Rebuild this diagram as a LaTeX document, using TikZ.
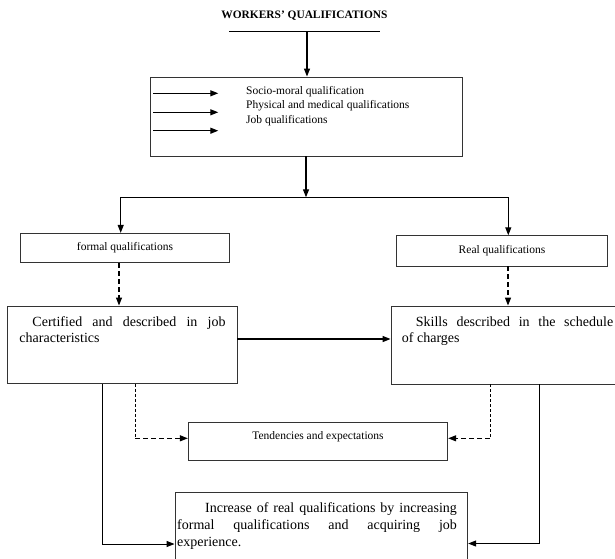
\documentclass[tikz,border=0pt]{standalone}
\usepackage{fontspec}
\setmainfont{Liberation Serif}
\usetikzlibrary{arrows.meta}
\newcommand\fsSmall{\fontsize{11.5}{14.5}\selectfont}
\newcommand\fsBig{\fontsize{14}{15.5}\selectfont}
\tolerance=10000
\hyphenpenalty=10000
\begin{document}
\begin{tikzpicture}[x=1pt,y=-1pt,
  box/.style={draw=black!80,line width=0.9pt,inner sep=0pt},
  lbl/.style={inner sep=0pt,font=\fsSmall},
  para/.style={inner sep=0pt,anchor=north west,align=justify,font=\fsBig},
  arr/.style={line width=1.2pt,-{Triangle[length=8pt,width=6pt]}},
  link/.style={line width=1pt},
  dasharr/.style={line width=1.2pt,dash pattern=on 5pt off 3pt,-{Triangle[length=8pt,width=6pt]}},
  finedash/.style={line width=0.7pt,dash pattern=on 3pt off 2pt}]
\clip (0,0) rectangle (615,558);
\useasboundingbox (0,0) rectangle (615,558);

% title
\node[font=\bfseries\fontsize{11.4}{13}\selectfont,inner sep=0pt,anchor=base] (title) at (304.5,18.8) {WORKERS’ QUALIFICATIONS};
\coordinate (ul) at (229,31);
\coordinate (ur) at (380,31);
\coordinate (um) at (307,31);
\draw[link] (ul) -- (ur);

% top box
\node[box,minimum width=312,minimum height=79] (top) at (306,116.5) {};
\draw[arr] (um) -- (um |- top.north);
\foreach \i/\yy in {1/93.3,2/112.3,3/130.7}{
  \coordinate (s\i) at (153,\yy);
  \coordinate (e\i) at (218.3,\yy);
  \draw[arr] (s\i) -- (e\i);
}
\node[lbl,anchor=base west] (q1) at (246,94.3) {Socio-moral qualification};
\node[lbl,anchor=base west] (q2) at (246,108.8) {Physical and medical qualifications};
\node[lbl,anchor=base west] (q3) at (246,123.3) {Job qualifications};

% split
\coordinate (sp) at (306,197.3);
\coordinate (fl) at (120.7,197.3);
\coordinate (fr) at (508.3,197.3);
\draw[arr] (top.south) -- (sp);
\draw[line width=1.2pt] (fl) -- (fr);

\node[box,font=\fsSmall,minimum width=208.6,minimum height=29.4] (formal) at (125,248) {formal qualifications};
\node[box,font=\fsSmall,minimum width=210.6,minimum height=30.3] (real) at (502,250.85) {Real qualifications};
\draw[arr] (fl) -- (fl |- formal.north);
\draw[arr] (fr) -- (fr |- real.north);

% second row
\node[box,minimum width=229.7,minimum height=77.3] (cert) at (122.15,344.65) {};
\node[para,text width=206] (certtxt) at (19.3,316.9) {\hspace*{13pt}Certified and described in job\linebreak characteristics};
\node[box,minimum width=235,minimum height=78] (skills) at (508.5,345) {};
\node[para,text width=211.3,font=\fontsize{14}{16}\selectfont] (skillstxt) at (401.7,316.9) {\hspace*{14pt}Skills described in the schedule\linebreak of charges};

\coordinate (dl) at (119,280);
\coordinate (dr) at (508,280);
\draw[dasharr] (formal.south -| dl) -- (cert.north -| dl);
\draw[dasharr] (real.south -| dr) -- (skills.north -| dr);

\coordinate (hm) at (300,339);
\draw[arr] (cert.east |- hm) -- (skills.west |- hm);

% bottom boxes
\node[box,minimum width=259.4,minimum height=37.3] (tend) at (318,441.35) {};
\node[lbl,anchor=base] (tendtxt) at (318,439.6) {Tendencies and expectations};
\node[box,minimum width=292.7,minimum height=77.3] (inc) at (321.35,531.35) {};
\node[para,text width=279.7,font=\fontsize{14}{17}\selectfont] (inctxt) at (177,502.9) {\hspace*{28pt}Increase of real qualifications by increasing\linebreak formal qualifications and acquiring job\linebreak experience.};

% lower connectors
\coordinate (c1) at (102.3,544);
\coordinate (c2) at (135,438.3);
\coordinate (c3) at (490,438.3);
\coordinate (c4) at (539.3,543.5);
\draw[arr,line width=1pt] (cert.south -| c1) -- (c1) -- (c1 -| inc.west);
\draw[finedash] (cert.south -| c2) -- (c2);
\draw[dasharr] (c2) -- (c2 -| tend.west);
\draw[finedash] (skills.south -| c3) -- (c3);
\draw[dasharr] (c3) -- (c3 -| tend.east);
\draw[arr,line width=1pt] (skills.south -| c4) -- (c4) -- (c4 -| inc.east);
\end{tikzpicture}
\end{document}
